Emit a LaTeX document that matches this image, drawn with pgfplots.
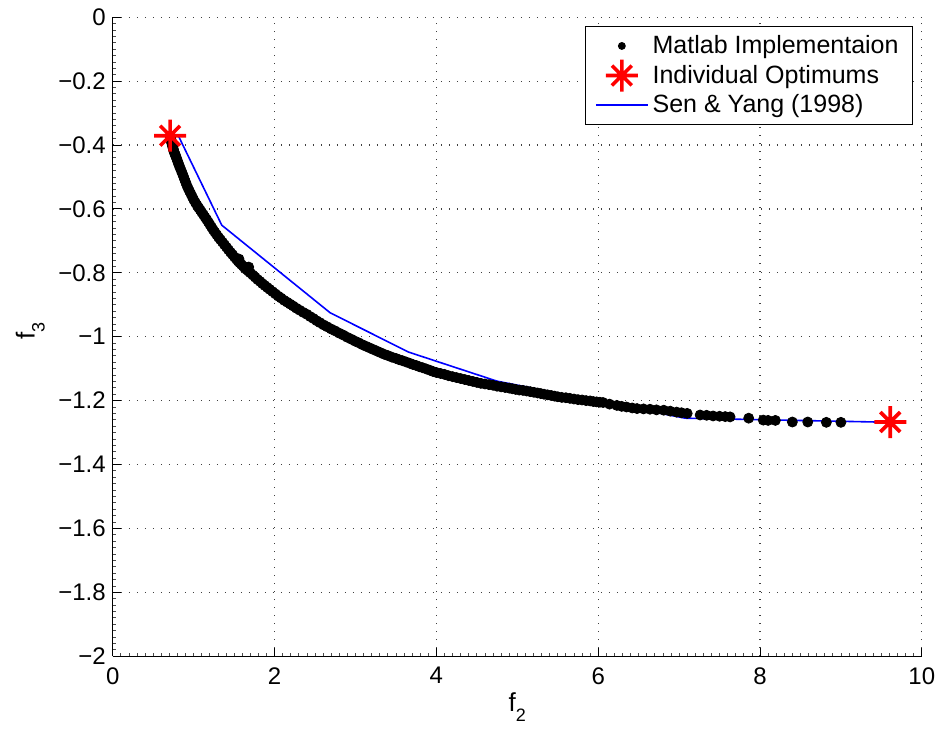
\documentclass[border=0pt]{standalone}
\usepackage{fontspec}
\setmainfont{Liberation Sans}
\usepackage{pgfplots}
\pgfplotsset{compat=1.18}

% eight-armed asterisk, as drawn by MATLAB's '*' marker
\pgfdeclareplotmark{asterisk8}{%
  \pgfpathmoveto{\pgfqpoint{-\pgfplotmarksize}{0pt}}%
  \pgfpathlineto{\pgfqpoint{\pgfplotmarksize}{0pt}}%
  \pgfpathmoveto{\pgfqpoint{0pt}{-\pgfplotmarksize}}%
  \pgfpathlineto{\pgfqpoint{0pt}{\pgfplotmarksize}}%
  \pgfpathmoveto{\pgfqpoint{-0.62\pgfplotmarksize}{-0.62\pgfplotmarksize}}%
  \pgfpathlineto{\pgfqpoint{0.62\pgfplotmarksize}{0.62\pgfplotmarksize}}%
  \pgfpathmoveto{\pgfqpoint{-0.62\pgfplotmarksize}{0.62\pgfplotmarksize}}%
  \pgfpathlineto{\pgfqpoint{0.62\pgfplotmarksize}{-0.62\pgfplotmarksize}}%
  \pgfusepathqstroke}

\pgfplotstableread{
x      y
0.710 -0.372
0.715 -0.378
0.720 -0.384
0.725 -0.390
0.730 -0.395
0.735 -0.400
0.740 -0.405
0.745 -0.410
0.750 -0.415
0.757 -0.421
0.765 -0.426
0.772 -0.431
0.780 -0.436
0.790 -0.443
0.800 -0.450
0.810 -0.457
0.820 -0.464
0.832 -0.472
0.845 -0.480
0.859 -0.489
0.873 -0.498
0.886 -0.507
0.900 -0.516
0.915 -0.526
0.930 -0.535
0.947 -0.544
0.965 -0.553
0.982 -0.562
1.000 -0.571
1.020 -0.580
1.040 -0.588
1.060 -0.596
1.080 -0.603
1.100 -0.611
1.120 -0.618
1.140 -0.626
1.160 -0.633
1.180 -0.641
1.200 -0.649
1.220 -0.657
1.240 -0.665
1.262 -0.673
1.285 -0.681
1.307 -0.689
1.330 -0.696
1.355 -0.704
1.380 -0.712
1.405 -0.720
1.430 -0.728
1.455 -0.736
1.480 -0.743
1.505 -0.751
1.530 -0.758
1.550 -0.764
1.560 -0.757
1.570 -0.769
1.590 -0.774
1.610 -0.779
1.632 -0.785
1.655 -0.790
1.680 -0.782
1.677 -0.795
1.700 -0.800
1.730 -0.807
1.760 -0.814
1.790 -0.821
1.820 -0.827
1.850 -0.834
1.880 -0.840
1.910 -0.846
1.940 -0.852
1.975 -0.859
2.010 -0.866
2.045 -0.873
2.080 -0.879
2.117 -0.886
2.155 -0.892
2.192 -0.898
2.230 -0.904
2.270 -0.911
2.310 -0.917
2.355 -0.924
2.400 -0.930
2.440 -0.937
2.480 -0.943
2.520 -0.950
2.560 -0.956
2.605 -0.963
2.650 -0.969
2.700 -0.976
2.750 -0.982
2.800 -0.989
2.850 -0.995
2.900 -1.002
2.950 -1.008
2.995 -1.014
3.040 -1.019
3.085 -1.025
3.130 -1.030
3.175 -1.035
3.220 -1.040
3.265 -1.045
3.310 -1.050
3.355 -1.055
3.400 -1.059
3.450 -1.064
3.500 -1.068
3.540 -1.072
3.580 -1.075
3.625 -1.079
3.670 -1.083
3.710 -1.087
3.750 -1.090
3.790 -1.094
3.830 -1.097
3.875 -1.101
3.920 -1.105
3.960 -1.109
4.000 -1.112
4.050 -1.115
4.100 -1.118
4.150 -1.122
4.200 -1.125
4.250 -1.128
4.300 -1.131
4.350 -1.134
4.400 -1.137
4.450 -1.140
4.500 -1.143
4.550 -1.146
4.600 -1.148
4.650 -1.150
4.700 -1.152
4.750 -1.155
4.800 -1.157
4.850 -1.159
4.900 -1.161
4.940 -1.163
4.980 -1.165
5.025 -1.167
5.070 -1.168
5.115 -1.170
5.160 -1.172
5.205 -1.174
5.250 -1.176
5.290 -1.178
5.330 -1.180
5.375 -1.182
5.420 -1.184
5.460 -1.186
5.500 -1.188
5.550 -1.190
5.600 -1.191
5.650 -1.193
5.700 -1.195
5.750 -1.197
5.800 -1.198
5.850 -1.200
5.900 -1.201
5.940 -1.203
5.980 -1.204
6.020 -1.205
6.060 -1.206
6.140 -1.211
6.230 -1.215
6.290 -1.218
6.350 -1.220
6.420 -1.223
6.480 -1.225
6.560 -1.226
6.640 -1.227
6.720 -1.229
6.810 -1.230
6.890 -1.233
6.970 -1.236
7.030 -1.238
7.100 -1.240
7.260 -1.245
7.340 -1.246
7.420 -1.248
7.500 -1.249
7.570 -1.250
7.630 -1.251
7.860 -1.255
8.040 -1.261
8.100 -1.262
8.190 -1.262
8.400 -1.267
8.590 -1.267
8.820 -1.268
9.000 -1.268
}\matlabfront

\pgfplotstableread{
x      y
0.708 -0.371
9.610 -1.267
}\optimums

\pgfplotstableread{
x      y
0.810 -0.371
1.347 -0.651
2.686 -0.925
3.654 -1.048
4.747 -1.139
7.074 -1.255
9.440 -1.267
}\senyang

\begin{document}
\begin{tikzpicture}
\begin{axis}[
  scale only axis,
  width=404.5pt, height=319.5pt,
  xmin=0, xmax=10, ymin=-2, ymax=0,
  axis x line*=bottom, axis y line*=left,
  axis line style={black, line width=0.6pt},
  xtick={0,2,4,6,8,10},
  xticklabels={0,2,4,6,8,10},
  ytick={-2,-1.8,-1.6,-1.4,-1.2,-1,-0.8,-0.6,-0.4,-0.2,0},
  yticklabels={−2,−1.8,−1.6,−1.4,−1.2,−1,−0.8,−0.6,−0.4,−0.2,0},
  minor x tick num=19,
  minor y tick num=9,
  tick align=inside,
  major tick length=4pt, minor tick length=1.5pt,
  major tick style={black, line width=0.5pt},
  minor tick style={black!70, line width=0.4pt},
  grid=major,
  major grid style={black!75, line width=0.6pt, dash pattern=on 0.6pt off 3.4pt},
  ticklabel style={font=\fontsize{12}{14}\selectfont},
  xticklabel style={yshift=-2pt},
  xlabel={f\raisebox{-5pt}{\fontsize{9}{10}\selectfont 2}},
  ylabel={f\raisebox{-5pt}{\fontsize{9}{10}\selectfont 3}},
  label style={font=\fontsize{13}{15}\selectfont, inner sep=0pt},
  xlabel style={at={(axis description cs:0.5,0)}, anchor=north, yshift=-18pt},
  ylabel style={at={(axis description cs:-0.102,0.509)}, anchor=center},
  legend style={at={(axis description cs:1,1)}, anchor=north east,
    xshift=-4.35pt, yshift=-4.35pt, draw=black, line width=0.5pt,
    font=\fontsize{12.5}{14}\selectfont, cells={anchor=west},
    inner xsep=5pt, inner ysep=2.5pt, row sep=-0.5pt},
  legend image code/.code={%
    \draw[mark repeat=2, mark phase=2, #1]
      plot coordinates {(0pt,0pt) (13pt,0pt) (26pt,0pt)};},
]
\addplot[only marks, mark=*, mark size=2.5pt, black,
  mark options={fill=black, draw=black},
  legend image code/.code={\fill[black] (13pt,0pt) circle (1.7pt);}]
  table[x=x, y=y] {\matlabfront};
\addlegendentry{Matlab Implementaion}

\addplot[only marks, mark=asterisk8, mark size=8pt, red,
  mark options={line width=1.8pt, draw=red}]
  table[x=x, y=y] {\optimums};
\addlegendentry{Individual Optimums}

\addplot[blue, line width=0.8pt, no marks]
  table[x=x, y=y] {\senyang};
\addlegendentry{Sen \& Yang (1998)}

\coordinate (sw) at (rel axis cs:0,0);
\coordinate (ne) at (rel axis cs:1,1);
\end{axis}
\pgfresetboundingbox
\path ([shift={(-56.4pt,-36pt)}]sw) rectangle ([shift={(9.6pt,8.6pt)}]ne);
\end{tikzpicture}
\end{document}
